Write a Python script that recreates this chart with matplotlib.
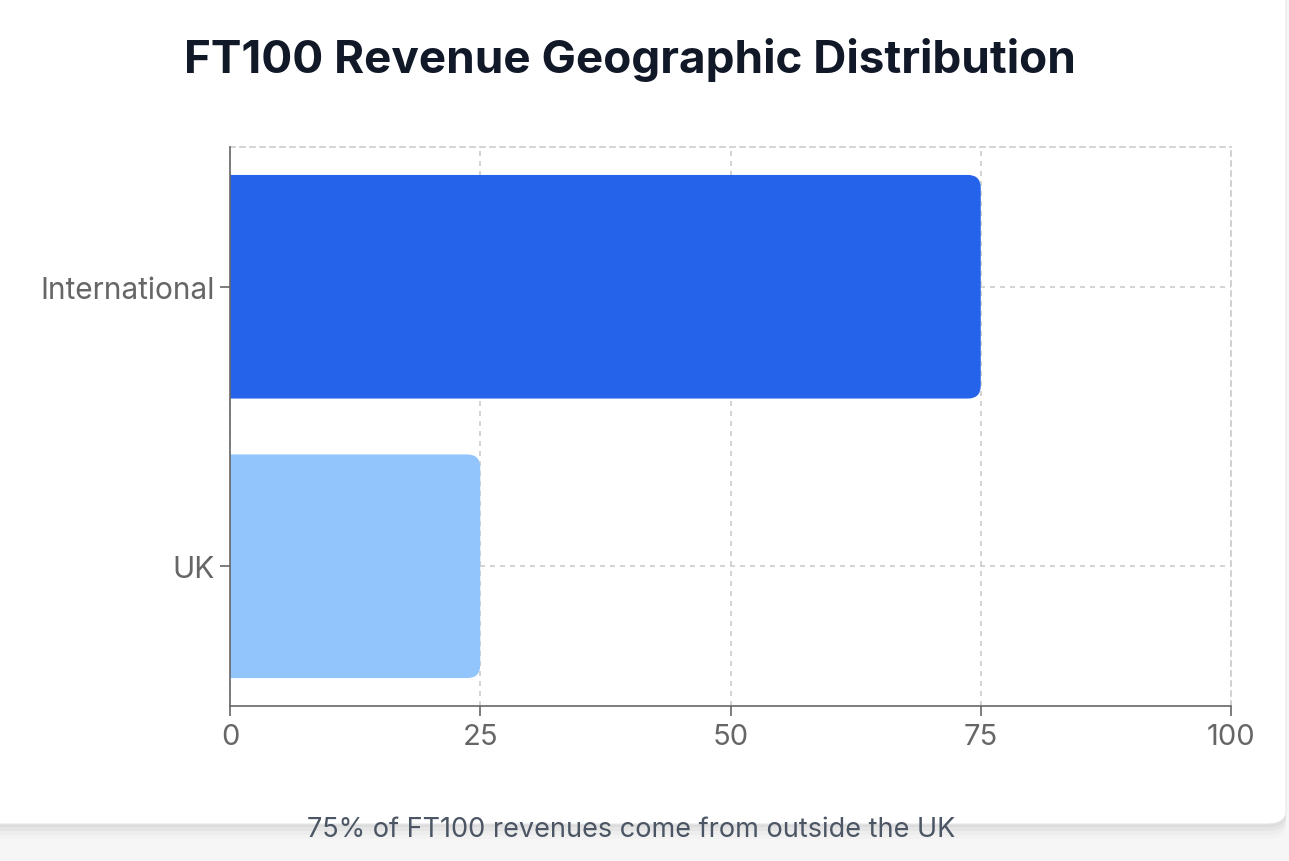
import matplotlib
matplotlib.use('Agg')
import matplotlib.pyplot as plt
from matplotlib.patches import FancyBboxPatch

# data
categories = ['UK', 'International']
revenue_share = [25, 75]
bar_colors = ['#93C5FD', '#2563EB']
x_ticks = [0, 25, 50, 75, 100]
title = 'FT100 Revenue Geographic Distribution'
caption = '75% of FT100 revenues come from outside the UK'

plt.rcParams['font.family'] = ['Inter', 'DejaVu Sans']

W, H = 1289, 862
fig = plt.figure(figsize=(W / 100, H / 100), dpi=100)
fig.patch.set_facecolor('#f6f6f7')

# card with a soft shadow
for i, a in enumerate([0.035, 0.03, 0.02, 0.015]):
    off = 3 + i * 4
    fig.patches.append(FancyBboxPatch((-30 / W, (H - 825 - off) / H), (1286 + 30) / W, (825 + off) / H,
                                      boxstyle='round,pad=0,rounding_size=0.015',
                                      transform=fig.transFigure, facecolor='black',
                                      alpha=a, edgecolor='none', zorder=-3))
fig.patches.append(FancyBboxPatch((-30 / W, (H - 825) / H), (1286 + 30) / W, (825 + 30) / H,
                                  boxstyle='round,pad=0,rounding_size=0.015',
                                  transform=fig.transFigure, facecolor='white',
                                  edgecolor='#e5e7eb', linewidth=0.8, zorder=-2))

ax = fig.add_axes([230 / W, 1 - 707 / H, (1231 - 230) / W, (707 - 148) / H])
ax.set_facecolor('none')

bars = ax.barh(categories, revenue_share, height=0.8, color=bar_colors)
ax.set_xlim(0, 100)
ax.set_ylim(-0.5, 1.5)

# swap the plain rectangles for ones with rounded right corners
px_x = (1231 - 230) / 100.0
px_y = (707 - 148) / 2.0
r = 13 / px_x
for b in bars:
    x, y = b.get_x(), b.get_y()
    w, h = b.get_width(), b.get_height()
    rb = FancyBboxPatch((x - 3, y), w + 3, h,
                        boxstyle='round,pad=0,rounding_size=%f' % r,
                        mutation_aspect=px_x / px_y,
                        facecolor=b.get_facecolor(), edgecolor='none', zorder=2)
    ax.add_patch(rb)
    b.remove()

ax.set_xticks(x_ticks)
ax.grid(True, color='#cccccc', linestyle=(0, (3, 3)), linewidth=1.2, zorder=0)
ax.set_axisbelow(True)
for s in ['top', 'right']:
    ax.spines[s].set_color('#cccccc')
    ax.spines[s].set_linestyle((0, (3, 3)))
    ax.spines[s].set_linewidth(1.2)
for s in ['left', 'bottom']:
    ax.spines[s].set_color('#666666')
    ax.spines[s].set_linewidth(1.2)
    ax.spines[s].set_zorder(3)

ax.tick_params(axis='both', colors='#666666', length=7, width=1.2, pad=3)
ax.tick_params(axis='x', labelsize=21, pad=5)
ax.tick_params(axis='y', labelsize=21.5, pad=4)

fig.text(630 / W, 1 - 60 / H, title, ha='center', va='center', fontsize=33,
         fontweight='bold', color='#111827')
fig.text(631 / W, 1 - 830 / H, caption, ha='center', va='center', fontsize=19.5,
         color='#4b5563')

fig.savefig('out.png', dpi=100, facecolor=fig.get_facecolor())
